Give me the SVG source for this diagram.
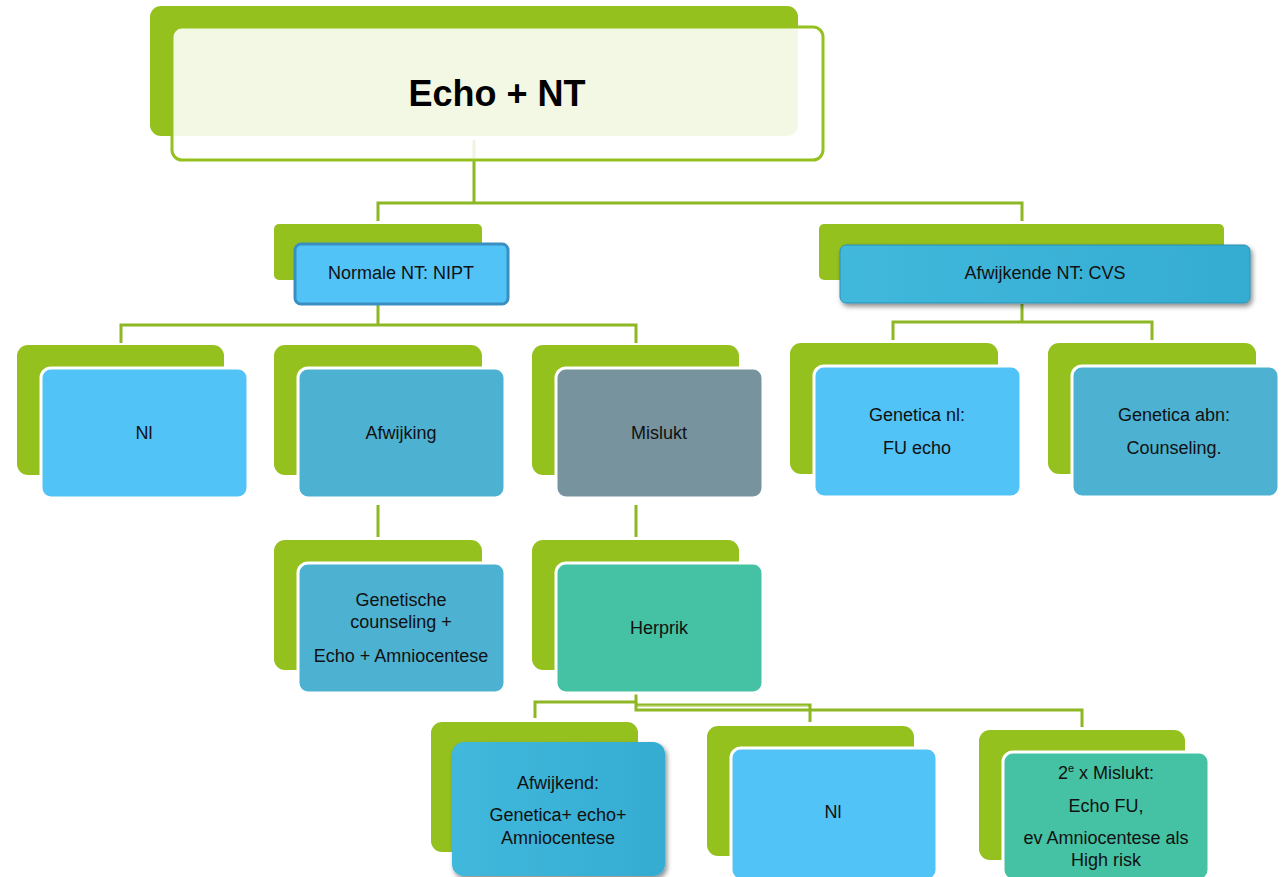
<svg xmlns="http://www.w3.org/2000/svg" width="1281" height="877" viewBox="0 0 1281 877">
<defs>
<style>
.back{fill:#95c11f}
.front{stroke:#ffffff;stroke-width:3}
.con{fill:none;stroke:#8db824;stroke-width:3}
.t{font-family:"Liberation Sans",Arial,sans-serif;font-size:18px;fill:#111;text-anchor:middle}
.blue{fill:#52c3f7}
.teal{fill:#4db1d1}
.grey{fill:#76939e}
.green2{fill:#45c1a4}
</style>
<linearGradient id="gcyan" x1="0" y1="0" x2="1" y2="0">
<stop offset="0" stop-color="#40b8dc"/>
<stop offset="1" stop-color="#35acd2"/>
</linearGradient>
<filter id="sh" x="-10%" y="-10%" width="125%" height="135%">
<feDropShadow dx="2" dy="3" stdDeviation="2.5" flood-color="#000" flood-opacity="0.45"/>
</filter>
</defs>
<rect width="1281" height="877" fill="#ffffff"/>

<g id="connectors">
<path class="con" d="M474,160 V203 M378,221 V203 H1022 V221"/>
<path class="con" d="M378,304 V325 M121,343 V325 H636 V343"/>
<path class="con" d="M1022,304 V322 M893,340 V322 H1152 V340"/>
<path class="con" d="M378,505 V537"/>
<path class="con" d="M636,505 V537"/>
<path class="con" d="M636,692 V702 H535 V718"/>
<path class="con" d="M636,702 V710 H1082 V727"/>
<path class="con" d="M636,705 H810 V722"/>
<path d="M638,706 H808" stroke="#c8df8e" stroke-width="1"/>
</g>

<g id="node-echo-nt">
<rect class="back" x="150" y="6" width="648" height="130" rx="11"/>
<rect x="172" y="27" width="651" height="133" rx="10" fill="#ffffff" fill-opacity="0.88" stroke="#95c11f" stroke-width="3"/>
<path d="M474,140 V158" stroke="#eef3e2" stroke-width="3"/>
<text x="497" y="106" font-family="Liberation Sans, Arial, sans-serif" font-size="36" font-weight="bold" text-anchor="middle" fill="#000">Echo + NT</text>
</g>

<g id="node-normale-nt">
<rect class="back" x="274" y="224" width="208" height="56" rx="5"/>
<rect x="295" y="244" width="213" height="60" rx="6" fill="#52c3f7" stroke="#3a8fc0" stroke-width="3"/>
<text class="t" x="401" y="279">Normale NT: NIPT</text>
</g>

<g id="node-afwijkende-nt">
<rect class="back" x="819" y="224" width="405" height="56" rx="5"/>
<rect x="840" y="245" width="410" height="58" rx="6" fill="url(#gcyan)" stroke="#2d8fb0" stroke-width="1" filter="url(#sh)"/>
<text class="t" x="1045" y="279">Afwijkende NT: CVS</text>
</g>

<g id="node-nl-1">
<rect class="back" x="17" y="345" width="207" height="130" rx="11"/>
<rect class="front blue" x="41" y="368" width="207" height="130" rx="10"/>
<text class="t" x="144" y="439">Nl</text>
</g>

<g id="node-afwijking">
<rect class="back" x="274" y="345" width="208" height="130" rx="11"/>
<rect class="front teal" x="298" y="368" width="207" height="130" rx="10"/>
<text class="t" x="401" y="439">Afwijking</text>
</g>

<g id="node-mislukt">
<rect class="back" x="532" y="345" width="207" height="130" rx="11"/>
<rect class="front grey" x="556" y="368" width="207" height="130" rx="10"/>
<text class="t" x="659" y="439">Mislukt</text>
</g>

<g id="node-genetica-nl">
<rect class="back" x="790" y="343" width="208" height="131" rx="11"/>
<rect class="front blue" x="814" y="366" width="207" height="131" rx="10"/>
<text class="t" x="917" y="421">Genetica nl:</text>
<text class="t" x="917" y="454">FU echo</text>
</g>

<g id="node-genetica-abn">
<rect class="back" x="1048" y="343" width="208" height="131" rx="11"/>
<rect class="front teal" x="1072" y="366" width="207" height="131" rx="10"/>
<text class="t" x="1174" y="421">Genetica abn:</text>
<text class="t" x="1174" y="454">Counseling.</text>
</g>

<g id="node-genetische">
<rect class="back" x="274" y="540" width="208" height="130" rx="11"/>
<rect class="front teal" x="298" y="563" width="207" height="130" rx="10"/>
<text class="t" x="401" y="606">Genetische</text>
<text class="t" x="401" y="628">counseling +</text>
<text class="t" x="401" y="662">Echo + Amniocentese</text>
</g>

<g id="node-herprik">
<rect class="back" x="532" y="540" width="207" height="130" rx="11"/>
<rect class="front green2" x="556" y="563" width="207" height="130" rx="10"/>
<text class="t" x="659" y="634">Herprik</text>
</g>

<g id="node-afwijkend">
<rect class="back" x="431" y="722" width="207" height="130" rx="11"/>
<rect x="452" y="742" width="213" height="134" rx="12" fill="url(#gcyan)" filter="url(#sh)"/>
<text class="t" x="558" y="789">Afwijkend:</text>
<text class="t" x="558" y="821">Genetica+ echo+</text>
<text class="t" x="558" y="844">Amniocentese</text>
</g>

<g id="node-nl-2">
<rect class="back" x="707" y="726" width="207" height="130" rx="11"/>
<rect class="front blue" x="731" y="748" width="206" height="132" rx="10"/>
<text class="t" x="833" y="818">Nl</text>
</g>

<g id="node-2e-mislukt">
<rect class="back" x="979" y="730" width="206" height="130" rx="11"/>
<rect class="front green2" x="1003" y="752" width="206" height="128" rx="10"/>
<text class="t" x="1106" y="779">2<tspan font-size="11" dy="-7">e</tspan><tspan dy="7"> x Mislukt:</tspan></text>
<text class="t" x="1106" y="812">Echo FU,</text>
<text class="t" x="1106" y="844">ev Amniocentese als</text>
<text class="t" x="1106" y="866">High risk</text>
</g>
</svg>
